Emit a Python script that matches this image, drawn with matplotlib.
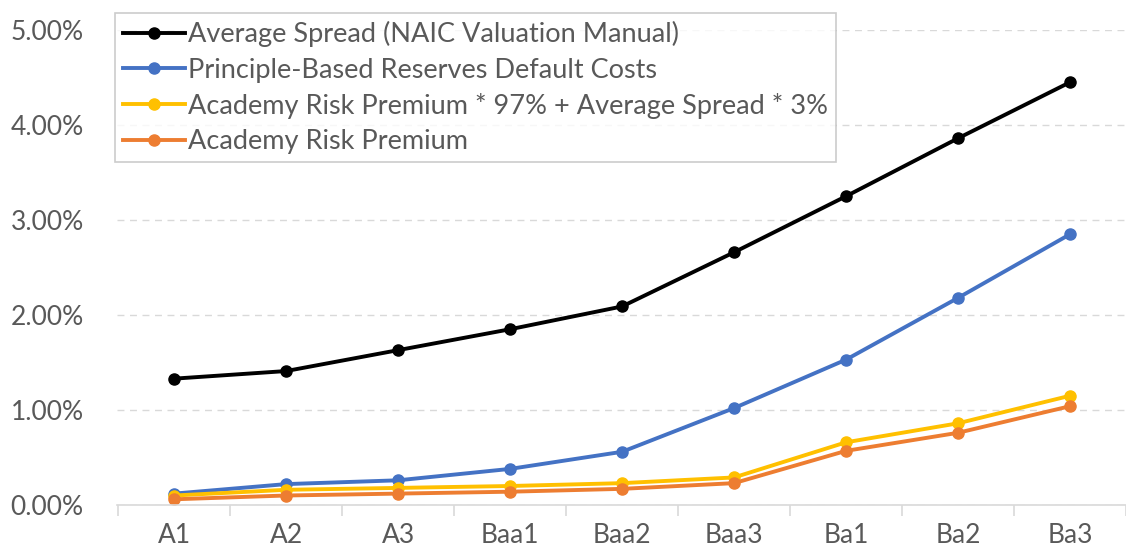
import matplotlib.pyplot as plt
import numpy as np

ratings = ['A1', 'A2', 'A3', 'Baa1', 'Baa2', 'Baa3', 'Ba1', 'Ba2', 'Ba3']
avg_spread = [1.33, 1.41, 1.63, 1.85, 2.09, 2.66, 3.25, 3.86, 4.45]
pbr_default = [0.12, 0.22, 0.26, 0.38, 0.56, 1.02, 1.53, 2.18, 2.85]
blend = [0.10, 0.16, 0.18, 0.20, 0.23, 0.29, 0.66, 0.86, 1.15]
risk_premium = [0.06, 0.10, 0.12, 0.14, 0.17, 0.23, 0.57, 0.76, 1.04]

labels = ['Average Spread (NAIC Valuation Manual)',
          'Principle-Based Reserves Default Costs',
          'Academy Risk Premium * 97% + Average Spread * 3%',
          'Academy Risk Premium']
colors = ['black', '#4472C4', '#FFC000', '#ED7D31']

plt.rcParams['font.family'] = ['Lato', 'DejaVu Sans']

fig = plt.figure(figsize=(11.26, 5.54), dpi=100)
ax = fig.add_axes([117 / 1126, 1 - 505 / 554, 1 - 117 / 1126, 475 / 554])

x = np.arange(len(ratings))
for vals, lab, col in zip([avg_spread, pbr_default, blend, risk_premium], labels, colors):
    ax.plot(x, vals, color=col, lw=2.8, marker='o', markersize=8, label=lab)

ax.set_xlim(-0.51, 8.41)
ax.set_ylim(0, 5)
ax.set_yticks(np.arange(0, 5.01, 1))
ax.set_yticklabels(['%.2f%%' % v for v in np.arange(0, 5.01, 1)])
ax.set_xticks(x)
ax.set_xticklabels(ratings)
ax.set_xticks(np.arange(-0.5, 8.6, 1), minor=True)

ax.grid(axis='y', color='#d9d9d9', linestyle=(0, (5, 4)), lw=1)
ax.set_axisbelow(True)
for s in ['top', 'right', 'left']:
    ax.spines[s].set_visible(False)
ax.spines['bottom'].set_color('#d9d9d9')
ax.spines['bottom'].set_linewidth(1.2)

ax.tick_params(axis='y', length=0, pad=24, labelsize=19, labelcolor='#595959')
ax.tick_params(axis='x', which='major', length=0, pad=13, labelsize=19, labelcolor='#595959')
ax.tick_params(axis='x', which='minor', length=8, color='#d9d9d9', width=1.2)

leg = fig.legend(loc='upper left', bbox_to_anchor=(115 / 1126, 1 - 13 / 554),
                 borderaxespad=0, fontsize=19.5, frameon=True, fancybox=False,
                 handlelength=2.3, handletextpad=0.1, labelspacing=0.38,
                 borderpad=0.3)
leg.get_frame().set_edgecolor('#bfbfbf')
leg.get_frame().set_linewidth(1.2)
for t in leg.get_texts():
    t.set_color('#595959')

fig.savefig('out.png', dpi=100)
